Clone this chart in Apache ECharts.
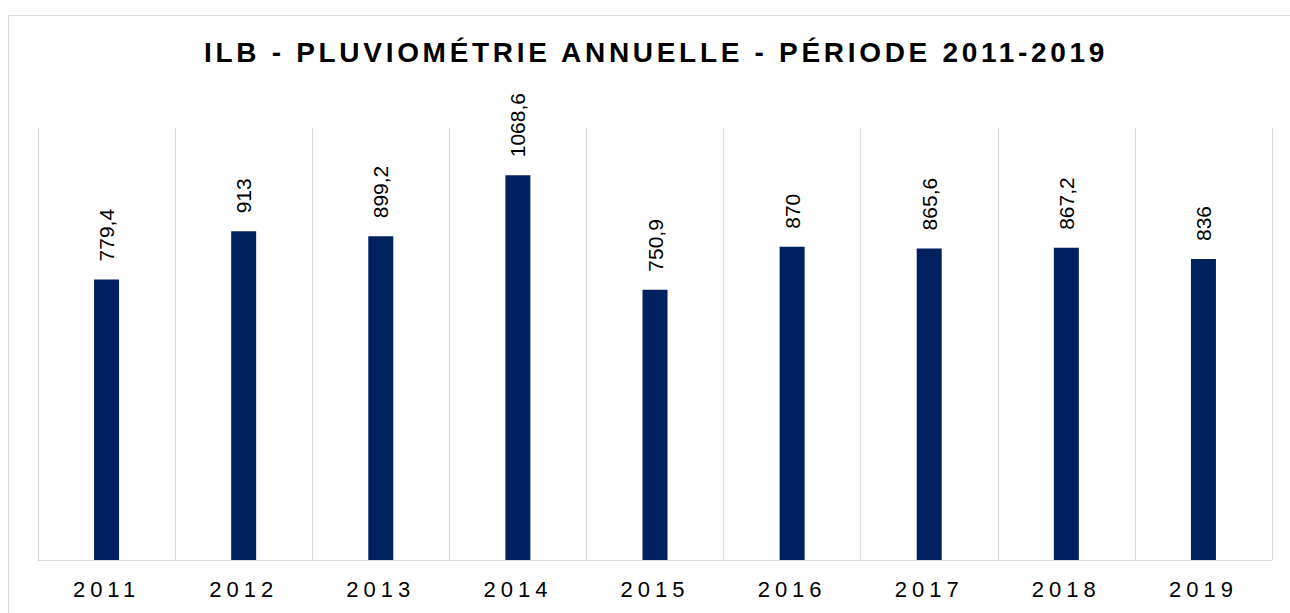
<!DOCTYPE html>
<html lang="fr">
<head>
    <meta charset="UTF-8">
    <title>ILB - Pluviométrie annuelle</title>
    <script src="https://cdn.jsdelivr.net/npm/echarts@6/dist/echarts.min.js"></script>
    <style>
        html, body { margin: 0; padding: 0; background: #fff; overflow: hidden; }
        #frame {
            position: absolute; left: 8px; top: 15px;
            width: 1400px; height: 700px;
            border: 1px solid #d9d9d9;
        }
        #chart { position: absolute; left: 0; top: 0; width: 1290px; height: 613px; }
        /* espacement des lettres : titre et étiquettes de l'axe */
        #chart text[style*="Helvetica"] { letter-spacing: 3.7px; }
        #chart text[style*="Arial"] { letter-spacing: 5px; }
    </style>
</head>
<body>
    <div id="frame"></div>
    <div id="chart"></div>
    <script>
        var annees = ['2011', '2012', '2013', '2014', '2015', '2016', '2017', '2018', '2019'];
        var pluie = [779.4, 913, 899.2, 1068.6, 750.9, 870, 865.6, 867.2, 836];

        var myChart = echarts.init(document.getElementById('chart'), null, { renderer: 'svg' });
        var option = {
            animation: false,
            title: {
                text: 'ILB - PLUVIOMÉTRIE ANNUELLE - PÉRIODE 2011-2019',
                left: 199,
                top: 33,
                textStyle: {
                    fontFamily: 'Liberation Sans, Helvetica',
                    fontSize: 28,
                    fontWeight: 'bold',
                    color: '#000'
                }
            },
            grid: { left: 38, right: 18, top: 128, bottom: 53 },
            xAxis: {
                type: 'category',
                data: annees,
                axisLine: { lineStyle: { color: '#d9d9d9', width: 1 } },
                axisTick: { show: false },
                splitLine: { show: true, lineStyle: { color: '#d9d9d9', width: 1 } },
                axisLabel: {
                    margin: 18,
                    fontFamily: 'Liberation Sans, Arial',
                    fontSize: 22,
                    color: '#000'
                }
            },
            yAxis: {
                type: 'value',
                min: 0,
                max: 1200,
                show: false,
                splitLine: { show: false }
            },
            series: [{
                type: 'bar',
                data: pluie,
                barWidth: 25,
                itemStyle: { color: '#002060' },
                label: {
                    show: true,
                    position: 'top',
                    rotate: 90,
                    align: 'left',
                    verticalAlign: 'middle',
                    distance: 18,
                    fontFamily: 'Liberation Sans',
                    fontSize: 21,
                    color: '#000',
                    formatter: function (p) { return String(p.value).replace('.', ','); }
                }
            }]
        };
        myChart.setOption(option);
    </script>
</body>
</html>
